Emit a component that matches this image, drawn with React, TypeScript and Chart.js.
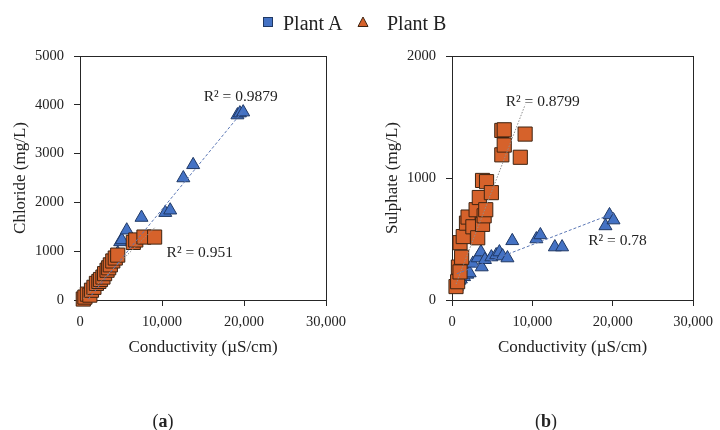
import React, { useEffect, useRef } from "react";
import { Chart, registerables } from "chart.js";

Chart.register(...registerables);

const FONT = "'Liberation Serif', 'Times New Roman', serif";
const TEXT = "#222222";
const AXIS = "#262626";
const BLUE = "#4472C4";
const BLUE_EDGE = "#1F3864";
const ORANGE = "#D6622B";
const ORANGE_EDGE = "#3E2412";

// ---------- shared axis ----------
const conductivityTicks = [0, 10000, 20000, 30000];

// ---------- panel (a): chloride ----------
const chlorideTicks = [0, 1000, 2000, 3000, 4000, 5000];
const chlorideCondA = [600, 1100, 1700, 2300, 2900, 3500, 4100, 4600, 4900, 5100, 5700, 7500, 10400, 11000, 12600, 13800, 19200, 19500, 19900];
const chlorideA = [60, 180, 300, 420, 560, 680, 800, 960, 1190, 1230, 1430, 1690, 1790, 1840, 2500, 2770, 3790, 3830, 3850];
const chlorideCondB = [400, 600, 900, 1200, 1400, 1700, 2000, 2300, 2500, 2800, 3000, 3300, 3500, 3700, 4000, 4300, 4600, 6500, 6800, 7800, 9100];
const chlorideB = [20, 60, 120, 100, 200, 260, 340, 380, 420, 470, 540, 610, 660, 720, 800, 860, 920, 1180, 1230, 1290, 1290];
const chlorideTrendCondA = [1000, 19900];
const chlorideTrendA = [16, 3880];
const chlorideTrendCondB = [400, 9100];
const chlorideTrendB = [30, 1480];
const chlorideR2Text = ["R² = 0.9879", "R² = 0.951"];
const chlorideR2At = [
  { x: 19600, y: 4160 },
  { x: 14600, y: 963 },
];

// ---------- panel (b): sulphate ----------
const sulphateTicks = [0, 1000, 2000];
const sulphateCondA = [600, 900, 1100, 1500, 1900, 2200, 2600, 3200, 3600, 3700, 4100, 4900, 5500, 5900, 6300, 6900, 7500, 10500, 11000, 12800, 13700, 19100, 19600, 20100];
const sulphateA = [110, 160, 170, 190, 210, 221, 300, 344, 393, 270, 330, 352, 369, 393, 360, 344, 485, 500, 533, 434, 434, 607, 697, 655];
const sulphateCondB = [500, 700, 800, 1000, 1000, 1200, 1400, 1800, 2000, 2600, 3000, 3200, 3400, 3800, 3800, 4300, 4000, 4200, 4900, 6200, 6200, 6500, 6500, 8500, 9100];
const sulphateB = [110, 150, 270, 230, 470, 350, 520, 630, 680, 600, 740, 510, 840, 620, 980, 970, 690, 740, 880, 1190, 1390, 1270, 1395, 1170, 1360];
const sulphateTrendCondA = [600, 20100];
const sulphateTrendA = [215, 710];
const sulphateTrendCondB = [500, 9100];
const sulphateTrendB = [130, 1600];
const sulphateR2Text = ["R² = 0.8799", "R² = 0.78"];
const sulphateR2At = [
  { x: 11300, y: 1623 },
  { x: 20600, y: 484 },
];

const zip = (xs: number[], ys: number[]) => xs.map((x, i) => ({ x, y: ys[i] }));

const boxPlugin = {
  id: "plotBox",
  beforeDatasetsDraw(chart: any) {
    const { ctx, chartArea: a } = chart;
    ctx.save();
    ctx.strokeStyle = AXIS;
    ctx.lineWidth = 1;
    const l = Math.round(a.left) + 0.5;
    const t = Math.round(a.top) + 0.5;
    const r = Math.round(a.right) + 0.5;
    const b = Math.round(a.bottom) + 0.5;
    ctx.strokeRect(l, t, r - l, b - t);
    ctx.restore();
  },
};

const r2Plugin = (texts: string[], at: { x: number; y: number }[]) => ({
  id: "r2Labels",
  afterDatasetsDraw(chart: any) {
    const { ctx, scales } = chart;
    ctx.save();
    ctx.font = `15.5px ${FONT}`;
    ctx.fillStyle = TEXT;
    ctx.textAlign = "center";
    ctx.textBaseline = "middle";
    texts.forEach((t, i) => {
      ctx.fillText(t, scales.x.getPixelForValue(at[i].x), scales.y.getPixelForValue(at[i].y));
    });
    ctx.restore();
  },
});

type PanelSpec = {
  yTitle: string;
  yTicks: number[];
  condA: number[];
  valA: number[];
  condB: number[];
  valB: number[];
  trendCondA: number[];
  trendA: number[];
  trendCondB: number[];
  trendB: number[];
  r2Text: string[];
  r2At: { x: number; y: number }[];
  yAxisWidth: number;
  padRight: number;
  yTitlePad: number;
};

function buildConfig(p: PanelSpec): any {
  const tickFont = { family: FONT, size: 14.5 };
  const titleFont = { family: FONT, size: 17 };
  return {
    type: "scatter",
    data: {
      datasets: [
        {
          label: "Plant A trend",
          data: zip(p.trendCondA, p.trendA),
          showLine: true,
          pointRadius: 0,
          borderColor: "#5B77B5",
          borderWidth: 1,
          borderDash: [3, 2],
          order: 0,
        },
        {
          label: "Plant B trend",
          data: zip(p.trendCondB, p.trendB),
          showLine: true,
          pointRadius: 0,
          borderColor: "#8E8E8E",
          borderWidth: 1,
          borderDash: [1.5, 1.5],
          order: 0,
        },
        {
          label: "Plant B",
          data: zip(p.condB, p.valB),
          pointStyle: "rect",
          pointRadius: 10,
          backgroundColor: ORANGE,
          borderColor: ORANGE_EDGE,
          borderWidth: 1,
          order: 1,
          clip: false,
        },
        {
          label: "Plant A",
          data: zip(p.condA, p.valA),
          pointStyle: "triangle",
          pointRadius: 7.5,
          backgroundColor: BLUE,
          borderColor: BLUE_EDGE,
          borderWidth: 1,
          order: 2,
          clip: false,
        },
      ],
    },
    options: {
      animation: false,
      responsive: false,
      events: [],
      layout: { padding: { left: 0, right: p.padRight, top: 56, bottom: 70 } },
      plugins: {
        legend: { display: false },
        tooltip: { enabled: false },
        title: { display: false },
      },
      scales: {
        x: {
          type: "linear",
          min: conductivityTicks[0],
          max: conductivityTicks[conductivityTicks.length - 1],
          afterBuildTicks: (s: any) => {
            s.ticks = conductivityTicks.map((v) => ({ value: v }));
          },
          afterFit: (s: any) => {
            s.height = 60;
          },
          ticks: {
            font: tickFont,
            color: TEXT,
            padding: 7,
            maxRotation: 0,
            autoSkip: false,
            callback: (v: any) => Number(v).toLocaleString("en-US"),
          },
          grid: { display: true, drawOnChartArea: false, drawTicks: true, tickLength: 6, color: AXIS, lineWidth: 1 },
          border: { display: true, color: AXIS, width: 1 },
          title: {
            display: true,
            text: "Conductivity (µS/cm)",
            font: titleFont,
            color: TEXT,
            padding: { top: 0, bottom: 2 },
          },
        },
        y: {
          type: "linear",
          min: p.yTicks[0],
          max: p.yTicks[p.yTicks.length - 1],
          afterBuildTicks: (s: any) => {
            s.ticks = p.yTicks.map((v) => ({ value: v }));
          },
          afterFit: (s: any) => {
            s.width = p.yAxisWidth;
          },
          ticks: {
            font: tickFont,
            color: TEXT,
            padding: 10,
            autoSkip: false,
            callback: (v: any) => String(v),
          },
          grid: { display: true, drawOnChartArea: false, drawTicks: true, tickLength: 6, color: AXIS, lineWidth: 1 },
          border: { display: true, color: AXIS, width: 1 },
          title: {
            display: true,
            text: p.yTitle,
            font: titleFont,
            color: TEXT,
            padding: { top: p.yTitlePad, bottom: 0 },
          },
        },
      },
    },
    plugins: [boxPlugin, r2Plugin(p.r2Text, p.r2At)],
  };
}

const panelA: PanelSpec = {
  yTitle: "Chloride (mg/L)",
  yTicks: chlorideTicks,
  condA: chlorideCondA,
  valA: chlorideA,
  condB: chlorideCondB,
  valB: chlorideB,
  trendCondA: chlorideTrendCondA,
  trendA: chlorideTrendA,
  trendCondB: chlorideTrendCondB,
  trendB: chlorideTrendB,
  r2Text: chlorideR2Text,
  r2At: chlorideR2At,
  yAxisWidth: 80,
  padRight: 34,
  yTitlePad: 10,
};

const panelB: PanelSpec = {
  yTitle: "Sulphate (mg/L)",
  yTicks: sulphateTicks,
  condA: sulphateCondA,
  valA: sulphateA,
  condB: sulphateCondB,
  valB: sulphateB,
  trendCondA: sulphateTrendCondA,
  trendA: sulphateTrendA,
  trendCondB: sulphateTrendCondB,
  trendB: sulphateTrendB,
  r2Text: sulphateR2Text,
  r2At: sulphateR2At,
  yAxisWidth: 92,
  padRight: 22,
  yTitlePad: 22,
};

function Panel({ left, spec }: { left: number; spec: PanelSpec }) {
  const ref = useRef<HTMLCanvasElement>(null);
  useEffect(() => {
    const chart = new Chart(ref.current as HTMLCanvasElement, buildConfig(spec));
    return () => chart.destroy();
  }, [spec]);
  return (
    <canvas
      ref={ref}
      width={360}
      height={430}
      style={{ position: "absolute", left, top: 0, width: 360, height: 430 }}
    />
  );
}

const legendText: React.CSSProperties = {
  position: "absolute",
  top: 11,
  fontFamily: FONT,
  fontSize: 20,
  lineHeight: "24px",
  color: TEXT,
  whiteSpace: "nowrap",
};

const captionStyle: React.CSSProperties = {
  position: "absolute",
  top: 409,
  width: 60,
  textAlign: "center",
  fontFamily: FONT,
  fontSize: 18,
  lineHeight: "24px",
  color: TEXT,
};

export default function App() {
  return (
    <div
      style={{
        position: "fixed",
        left: 0,
        top: 0,
        width: 720,
        height: 430,
        background: "#ffffff",
        overflow: "hidden",
      }}
    >
      <Panel left={0} spec={panelA} />
      <Panel left={360} spec={panelB} />
      <div
        style={{
          position: "absolute",
          left: 263,
          top: 17,
          width: 10,
          height: 10,
          boxSizing: "border-box",
          background: BLUE,
          border: `1px solid ${BLUE_EDGE}`,
        }}
      />
      <div style={{ ...legendText, left: 283 }}>Plant A</div>
      <svg style={{ position: "absolute", left: 357, top: 16 }} width={12} height={12} viewBox="0 0 12 12">
        <polygon points="6,1 11,10.5 1,10.5" fill={ORANGE} stroke={ORANGE_EDGE} strokeWidth={1} />
      </svg>
      <div style={{ ...legendText, left: 387 }}>Plant B</div>
      <div style={{ ...captionStyle, left: 133 }}>
        (<b>a</b>)
      </div>
      <div style={{ ...captionStyle, left: 516 }}>
        (<b>b</b>)
      </div>
    </div>
  );
}
